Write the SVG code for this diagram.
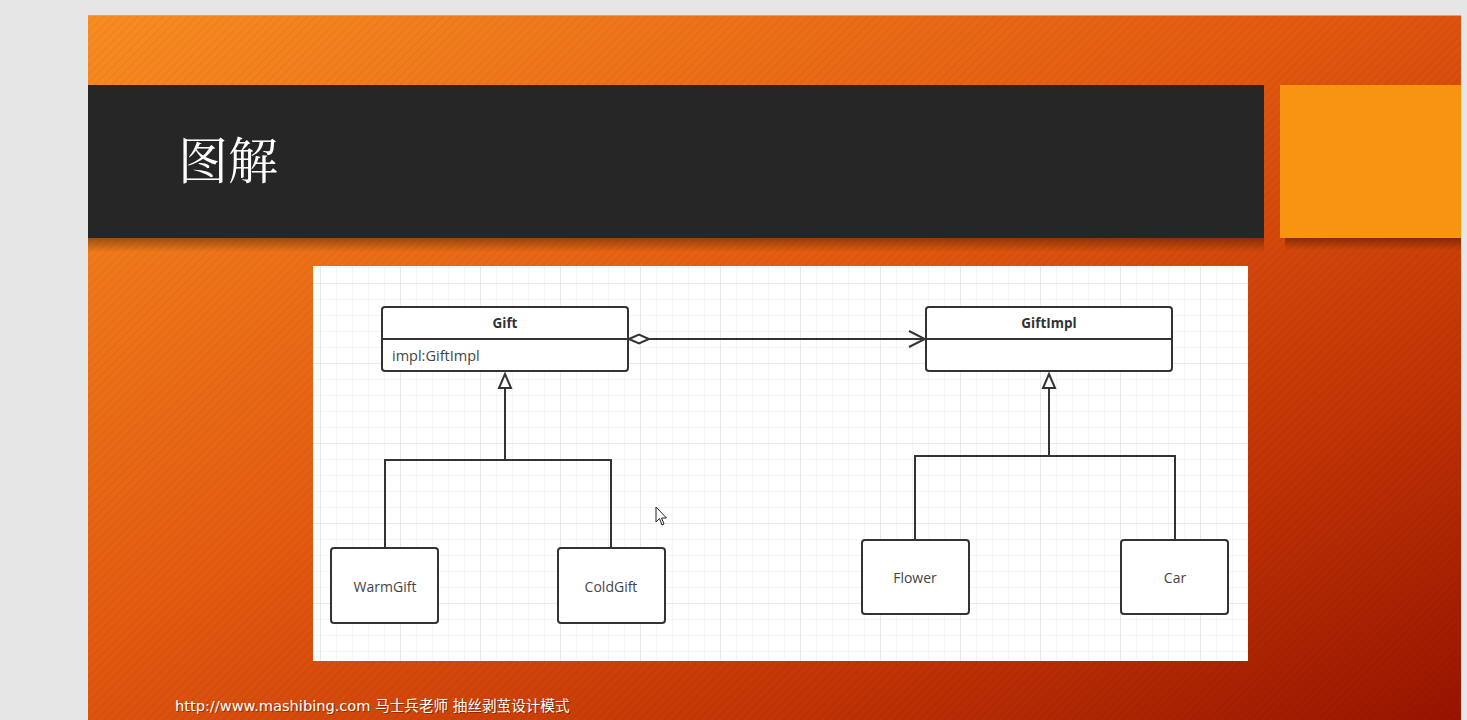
<svg xmlns="http://www.w3.org/2000/svg" width="1467" height="720" viewBox="0 0 1467 720">
<defs>
<linearGradient id="bg" x1="0" y1="0" x2="1" y2="1" gradientUnits="objectBoundingBox">
<stop offset="0" stop-color="#f88d22"/>
<stop offset="0.45" stop-color="#e35a10"/>
<stop offset="0.75" stop-color="#c13405"/>
<stop offset="1" stop-color="#981400"/>
</linearGradient>
<pattern id="stripes" width="6" height="6" patternUnits="userSpaceOnUse" patternTransform="rotate(-45)">
<rect width="6" height="2" fill="#000" fill-opacity="0.035"/>
</pattern>
<pattern id="grid" x="320" y="283" width="16" height="16" patternUnits="userSpaceOnUse">
<path d="M0 0V16M0 0H16" stroke="#ebebeb" stroke-width="1" fill="none"/>
</pattern>
<pattern id="gridMajor" x="320" y="283" width="80" height="80" patternUnits="userSpaceOnUse">
<path d="M0 0V80M0 0H80" stroke="#dedede" stroke-width="1" fill="none"/>
</pattern>
<linearGradient id="shadow" x1="0" y1="0" x2="0" y2="1">
<stop offset="0" stop-color="#000" stop-opacity="0.35"/>
<stop offset="1" stop-color="#000" stop-opacity="0"/>
</linearGradient>
<marker id="diamond" markerWidth="24" markerHeight="12" refX="1" refY="6" orient="auto" markerUnits="userSpaceOnUse">
<path d="M1 6L11 1.5L21 6L11 10.5Z" fill="#fff" stroke="#333" stroke-width="2"/>
</marker>
<marker id="open" markerWidth="20" markerHeight="20" refX="18" refY="10" orient="auto" markerUnits="userSpaceOnUse">
<path d="M2 2L18 10L2 18" fill="none" stroke="#333" stroke-width="2"/>
</marker>
</defs>
<style>
.box{fill:#fff;stroke:#333;stroke-width:2}
.ln{fill:none;stroke:#333;stroke-width:2}
.t{font-family:"Open Sans","Noto Sans","Noto Sans CJK SC",sans-serif;font-size:14px;fill:#444;text-anchor:middle;dominant-baseline:central}
.b{font-weight:bold;fill:#333;font-size:13.5px}
.foot{font-family:Verdana,"DejaVu Sans","Noto Sans CJK SC",sans-serif;font-size:14.6px}
</style>
<rect width="1467" height="720" fill="#e6e6e6"/>
<rect x="88" y="15" width="1373" height="705" fill="url(#bg)"/>
<rect x="88" y="15" width="1373" height="705" fill="url(#stripes)"/>
<rect x="88" y="15" width="1373" height="1" fill="#d9a080"/>
<g id="header">
<rect x="88" y="238" width="1176" height="14" fill="url(#shadow)"/>
<rect x="1285" y="238" width="176" height="12" fill="url(#shadow)"/>
<rect x="88" y="85" width="1176" height="153" fill="#262626"/>
<rect x="1280" y="85" width="181" height="153" fill="#f99410"/>
<text x="178" y="179" font-family="'Noto Serif CJK SC','Noto Sans CJK SC',serif" font-size="50" fill="#fff">图解</text>
</g>
<g id="canvas">
<rect x="313" y="266" width="935" height="395" fill="#fff"/>
<rect x="313" y="266" width="935" height="395" fill="url(#grid)"/>
<rect x="313" y="266" width="935" height="395" fill="url(#gridMajor)"/>
</g>
<g id="connectors">
<line class="ln" x1="629" y1="339" x2="925" y2="339" marker-start="url(#diamond)" marker-end="url(#open)"/>
<path class="ln" d="M505 388V460M385 548V460H611V548"/>
<path d="M505 374L511 388H499Z" fill="#fff" stroke="#333" stroke-width="2"/>
<path class="ln" d="M1049 388V456M915 540V456H1175V540"/>
<path d="M1049 374L1055 388H1043Z" fill="#fff" stroke="#333" stroke-width="2"/>
</g>
<g id="Gift">
<rect class="box" x="382" y="307" width="246" height="64" rx="3"/>
<line class="ln" x1="382" y1="339" x2="628" y2="339"/>
<text class="t b" x="505" y="323">Gift</text>
<text class="t" x="392" y="355" style="text-anchor:start;font-size:14.5px">impl:GiftImpl</text>
</g>
<g id="GiftImpl">
<rect class="box" x="926" y="307" width="246" height="64" rx="3"/>
<line class="ln" x1="926" y1="339" x2="1172" y2="339"/>
<text class="t b" x="1049" y="323">GiftImpl</text>
</g>
<g id="WarmGift">
<rect class="box" x="331" y="548" width="107" height="75" rx="3"/>
<text class="t" x="385" y="586">WarmGift</text>
</g>
<g id="ColdGift">
<rect class="box" x="558" y="548" width="107" height="75" rx="3"/>
<text class="t" x="611" y="586">ColdGift</text>
</g>
<g id="Flower">
<rect class="box" x="862" y="540" width="107" height="74" rx="3"/>
<text class="t" x="915" y="577">Flower</text>
</g>
<g id="Car">
<rect class="box" x="1121" y="540" width="107" height="74" rx="3"/>
<text class="t" x="1175" y="577">Car</text>
</g>
<path d="M656 507V522L659.5 518.5L662 525L664 524L661.5 518H666.5Z" fill="#fff" stroke="#222" stroke-width="1"/>
<text class="foot" x="176" y="712" fill="#000" fill-opacity="0.35">http://www.mashibing.com 马士兵老师 抽丝剥茧设计模式</text>
<text class="foot" x="175" y="711" fill="#fff">http://www.mashibing.com 马士兵老师 抽丝剥茧设计模式</text>
</svg>
